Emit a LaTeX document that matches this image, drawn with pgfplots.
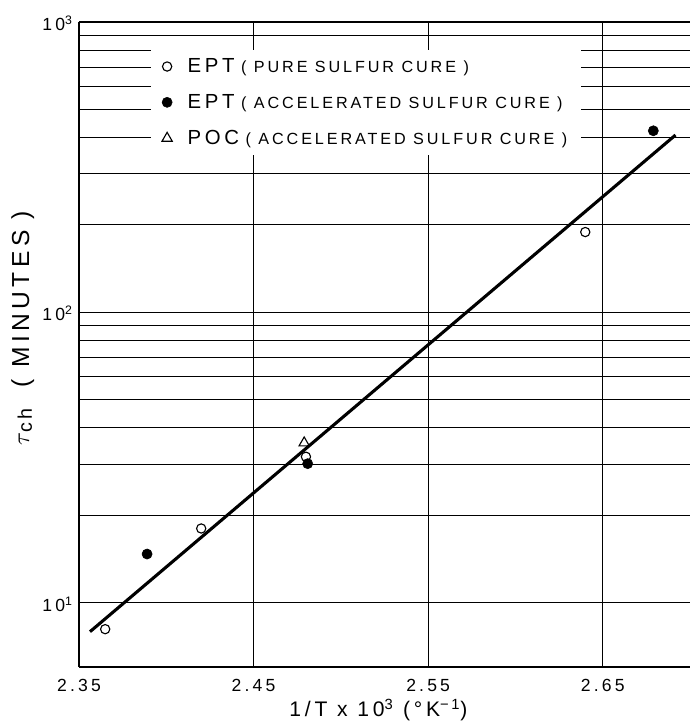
\documentclass[border=0pt]{standalone}
\usepackage{fontspec}
\setmainfont{Liberation Sans}[LetterSpace=18]
\usepackage{pgfplots}
\pgfplotsset{compat=1.18}

\newcommand{\bg}[1]{{\fontsize{14.5}{16}\selectfont #1}}
\newcommand{\sm}[1]{{\fontsize{11.5}{13}\selectfont #1}}

\begin{document}
\begin{tikzpicture}
\begin{axis}[
    scale only axis,
    width=15.275cm, height=16.125cm,
    xmin=2.35, xmax=2.70,
    ymode=log, ymin=6, ymax=1000,
    axis x line*=box, axis y line*=left,
    y axis line style={-},
    axis line style={line width=1.3pt},
    xtick={2.35,2.45,2.55,2.65},
    xticklabels={2.35,2.45,2.55,2.65},
    ytick={10,100,1000},
    yticklabels={10\textsuperscript{1},10\textsuperscript{2},10\textsuperscript{3}},
    major tick length=0pt, minor tick length=0pt,
    xmajorgrids, ymajorgrids, yminorgrids,
    major grid style={black, line width=0.6pt},
    minor grid style={black, line width=0.6pt},
    ticklabel style={font=\fontsize{12.5}{14}\selectfont},
    xticklabel style={yshift=-5pt},
    yticklabel style={xshift=-1pt, yshift=-1pt},
    xlabel={{\fontsize{15}{17}\selectfont 1/T x 10\textsuperscript{3} (°K\textsuperscript{−1})}},
    xlabel style={at={(axis description cs:0.49,0)}, anchor=center, yshift=-1.08cm},
    ylabel={{\fontsize{18}{20}\selectfont$\tau$}{\fontsize{14}{16}\selectfont\raisebox{-2pt}{ch}}\hspace{15pt}{\fontsize{17.5}{20}\selectfont( MINUTES )}},
    ylabel style={at={(axis description cs:-0.092,0.525)}, anchor=center},
    legend style={draw=none, fill=white, at={(0.117,0.957)}, anchor=north west,
        row sep=10pt, inner xsep=8pt, inner ysep=4pt},
    legend cell align=left,
]
% fitted line
\addplot[black, line width=2.2pt, forget plot] coordinates {
    (2.3563,7.94) (2.6917,408)
};
\addplot[only marks, mark=o, mark size=3.3pt, black, thick] coordinates {
    (2.365,8.1) (2.420,18.0) (2.480,31.8) (2.640,189)
};
\addlegendentry{\hspace{9pt}\bg{EPT} \sm{( PURE SULFUR CURE )}}
\addplot[only marks, mark=*, mark size=3.6pt, black] coordinates {
    (2.389,14.7) (2.481,30.1) (2.679,422)
};
\addlegendentry{\hspace{9pt}\bg{EPT} \sm{( ACCELERATED SULFUR CURE )}}
\addplot[only marks, mark=triangle, mark size=4.2pt, black, thick, fill=white] coordinates {
    (2.479,35.5)
};
\addlegendentry{\hspace{9pt}\bg{POC} \sm{( ACCELERATED SULFUR CURE )}}
\end{axis}
\pgfresetboundingbox
\path (-1.975cm,-1.475cm) rectangle (15.275cm,16.675cm);
\end{tikzpicture}
\end{document}
